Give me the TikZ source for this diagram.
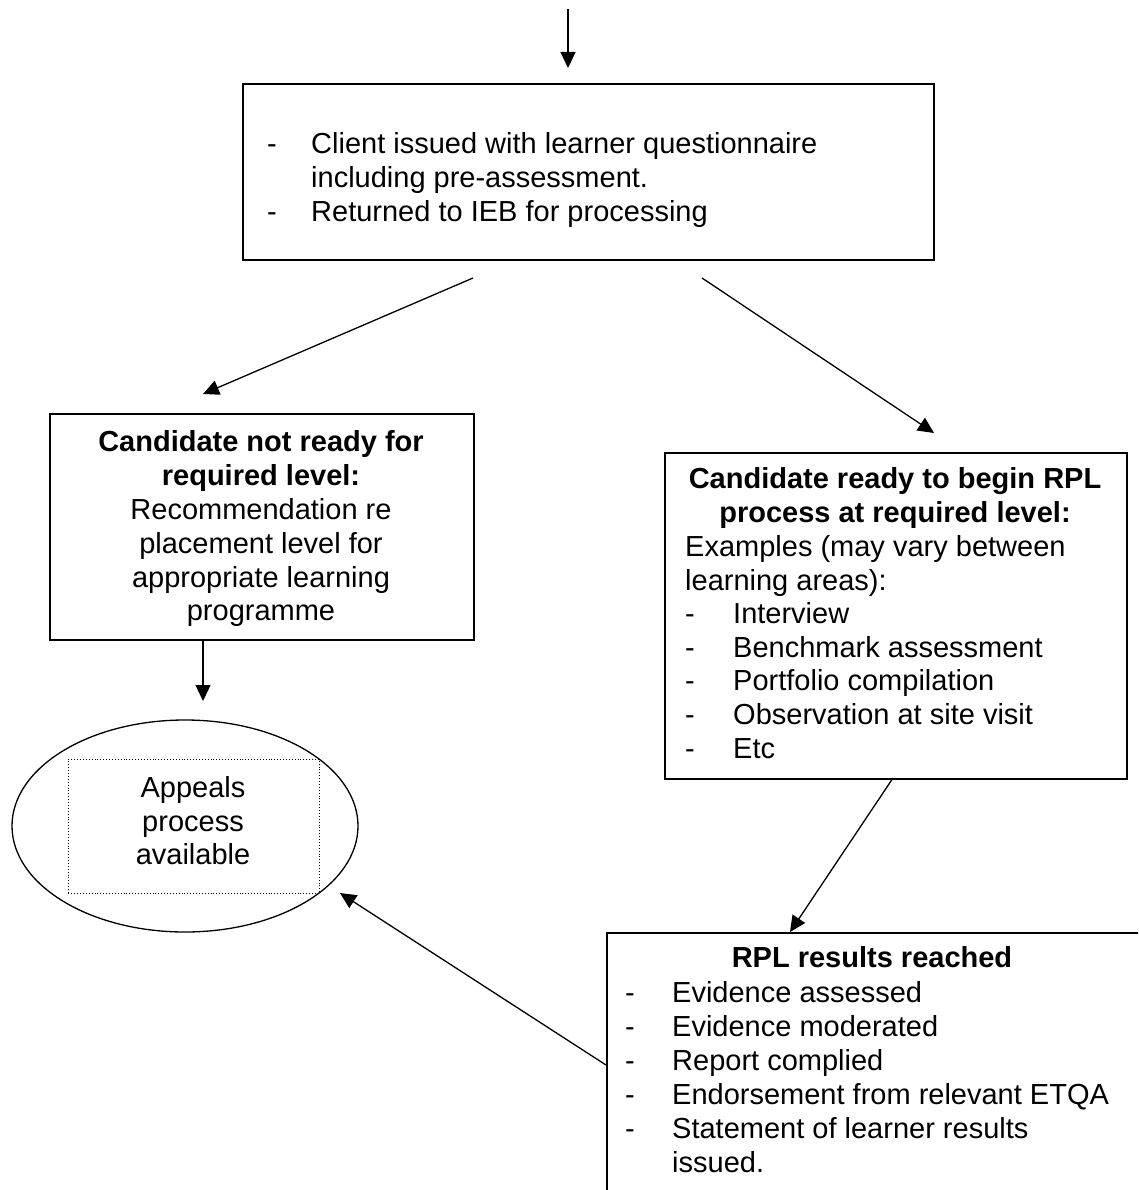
\documentclass[tikz,border=0pt]{standalone}
\usepackage{fontspec}
\setmainfont{Liberation Sans}
\usetikzlibrary{arrows.meta,shapes.geometric}
\tikzset{
  boxnode/.style={draw, line width=1.6pt, rectangle, inner sep=0pt, anchor=north west},
  conn/.style={line width=1.3pt, -{Triangle[length=16pt,width=15pt]}},
  txt/.style={inner sep=0pt, anchor=base west},
  ctxt/.style={inner sep=0pt, anchor=base},
}
\begin{document}
\begin{tikzpicture}[x=1pt,y=-1pt]
\useasboundingbox (0,0) rectangle (1138,1190);
\clip (0,0) rectangle (1138,1190);
\fontsize{29}{34}\selectfont

% boxes
\node[boxnode, minimum width=691pt, minimum height=176pt] (top) at (242,83) {};
\node[boxnode, minimum width=424pt, minimum height=226pt] (notready) at (49,413) {};
\node[boxnode, minimum width=462pt, minimum height=326pt] (ready) at (664,452) {};
\node[boxnode, minimum width=580pt, minimum height=300pt] (results) at (606,932) {};
\node[draw, line width=1.3pt, ellipse, minimum width=346pt, minimum height=212pt, inner sep=0pt] (appeal) at (185,826) {};
\node[draw, dotted, line width=0.9pt, rectangle, inner sep=0pt, anchor=north west, minimum width=251pt, minimum height=134pt] (appbox) at (68,759) {};

% top box text
\node[txt] (t1d) at (267,154) {-};
\node[txt] (t1) at (311,154) {Client issued with learner questionnaire};
\node[txt] (t2) at (311,188) {including pre-assessment.};
\node[txt] (t3d) at (267,222) {-};
\node[txt] (t3) at (311,222) {Returned to IEB for processing};

% not ready box text
\node[ctxt] (n1) at (261,451) {\bfseries Candidate not ready for};
\node[ctxt] (n2) at (261,485) {\bfseries required level:};
\node[ctxt] (n3) at (261,519) {Recommendation re};
\node[ctxt] (n4) at (261,553) {placement level for};
\node[ctxt] (n5) at (261,587) {appropriate learning};
\node[ctxt] (n6) at (261,620) {programme};

% ready box text
\node[ctxt] (r1) at (895,488) {\bfseries Candidate ready to begin RPL};
\node[ctxt] (r2) at (895,522) {\bfseries process at required level:};
\node[txt] (r3) at (685,556) {Examples (may vary between};
\node[txt] (r4) at (685,590) {learning areas):};
\node[txt] (r5d) at (685,623) {-};
\node[txt] (r5) at (733,623) {Interview};
\node[txt] (r6d) at (685,657) {-};
\node[txt] (r6) at (733,657) {Benchmark assessment};
\node[txt] (r7d) at (685,690) {-};
\node[txt] (r7) at (733,690) {Portfolio compilation};
\node[txt] (r8d) at (685,724) {-};
\node[txt] (r8) at (733,724) {Observation at site visit};
\node[txt] (r9d) at (685,758) {-};
\node[txt] (r9) at (733,758) {Etc};

% results box text
\node[ctxt] (s0) at (872,967) {\bfseries RPL results reached};
\node[txt] (s1d) at (625,1002) {-};
\node[txt] (s1) at (672,1002) {Evidence assessed};
\node[txt] (s2d) at (625,1036) {-};
\node[txt] (s2) at (672,1036) {Evidence moderated};
\node[txt] (s3d) at (625,1070) {-};
\node[txt] (s3) at (672,1070) {Report complied};
\node[txt] (s4d) at (625,1104) {-};
\node[txt] (s4) at (672,1104) {Endorsement from relevant ETQA};
\node[txt] (s5d) at (625,1138) {-};
\node[txt] (s5) at (672,1138) {Statement of learner results};
\node[txt] (s6) at (672,1172) {issued.};

% appeals text
\node[ctxt] (a1) at (193,797) {Appeals};
\node[ctxt] (a2) at (193,831) {process};
\node[ctxt] (a3) at (193,864) {available};

% connector end points
\coordinate (in0) at (568,9);
\coordinate (in0e) at (568,68);
\coordinate (lA) at (473,278);
\coordinate (lB) at (203,394);
\coordinate (rA) at (702,278);
\coordinate (rB) at (934,433);
\coordinate (dA) at (203,641);
\coordinate (dB) at (203,701);
\coordinate (eA) at (893,778);
\coordinate (eB) at (790,932);
\coordinate (fA) at (606,1065);
\coordinate (fB) at (340,893);

\draw[conn] (in0) -- (in0e);
\draw[conn] (lA) -- (lB);
\draw[conn] (rA) -- (rB);
\draw[conn] (dA) -- (dB);
\draw[conn] (eA) -- (eB);
\draw[conn] (fA) -- (fB);
\end{tikzpicture}
\end{document}
